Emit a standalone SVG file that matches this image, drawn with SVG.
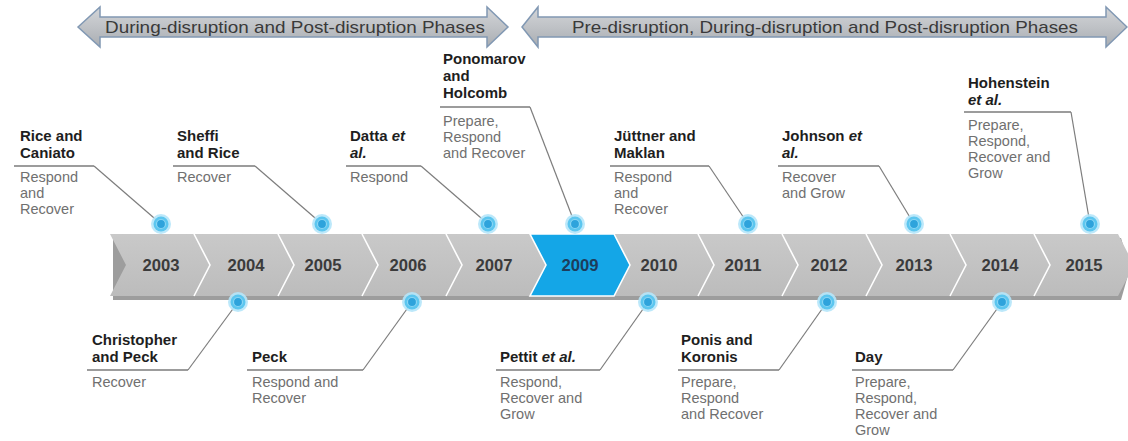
<svg xmlns="http://www.w3.org/2000/svg" width="1128" height="441" viewBox="0 0 1128 441">
<defs>
<linearGradient id="arrowFill" x1="0" y1="0" x2="0" y2="1">
<stop offset="0" stop-color="#d3d5d8"/>
<stop offset="0.5" stop-color="#bfc2c6"/>
<stop offset="1" stop-color="#a9adb2"/>
</linearGradient>
<linearGradient id="bandFill" x1="0" y1="0" x2="0" y2="1">
<stop offset="0" stop-color="#c9c9c9"/>
<stop offset="1" stop-color="#bcbcbc"/>
</linearGradient>
<g id="dot">
<circle r="10" fill="#b5e6f9" opacity="0.9"/>
<circle r="7.5" fill="#5cc6ef"/>
<circle r="4.5" fill="#2ea3dc" stroke="#8ad6f4" stroke-width="1.2"/>
</g>
</defs>
<style>
.arrow{fill:url(#arrowFill);stroke:#8198b3;stroke-width:1.5}
.atext{font-family:"Liberation Sans",Arial,sans-serif;font-size:17px;fill:#3a3a3a}
.seg{fill:url(#bandFill)}
.sep{fill:none;stroke:#ffffff;stroke-width:1.6}
.year{font-family:"Liberation Sans",Arial,sans-serif;font-size:17px;font-weight:bold;fill:#3b3b3b;text-anchor:middle}
.name{font-family:"Liberation Sans",Arial,sans-serif;font-size:15px;font-weight:bold;fill:#1e1e1e}
.desc{font-family:"Liberation Sans",Arial,sans-serif;font-size:14.5px;fill:#707070}
.rule{fill:none;stroke:#9c9c9c;stroke-width:2}
.lead{fill:none;stroke:#7d7d7d;stroke-width:1.2}
</style>
<rect width="1128" height="441" fill="#ffffff"/>

<g id="phase-during-post">
<polygon class="arrow" points="78,27 100,7 100,17 487,17 487,7 508,27 487,47 487,37 100,37 100,47"/>
<text class="atext" x="105" y="33" textLength="380" lengthAdjust="spacingAndGlyphs">During-disruption and Post-disruption Phases</text>
</g>
<g id="phase-pre-during-post">
<polygon class="arrow" points="522,27 538,7 538,17 1106,17 1106,7 1127,27 1106,47 1106,37 538,37 538,47"/>
<text class="atext" x="572" y="33" textLength="506" lengthAdjust="spacingAndGlyphs">Pre-disruption, During-disruption and Post-disruption Phases</text>
</g>

<g id="timeline">
<polygon points="113,238 1121,238 1130,268 1121,300 113,300" fill="#9d9d9d"/>
<polygon class="seg" points="110,234 1118,234 1134,265 1118,296 110,296 126,265"/>
<polyline class="sep" points="194,234 210,265 194,296"/>
<polyline class="sep" points="278,234 294,265 278,296"/>
<polyline class="sep" points="362,234 378,265 362,296"/>
<polyline class="sep" points="446,234 462,265 446,296"/>
<polyline class="sep" points="698,234 714,265 698,296"/>
<polyline class="sep" points="782,234 798,265 782,296"/>
<polyline class="sep" points="866,234 882,265 866,296"/>
<polyline class="sep" points="950,234 966,265 950,296"/>
<polyline class="sep" points="1034,234 1050,265 1034,296"/>
<polygon points="530,234 614,234 630,265 614,296 530,296 546,265" fill="#14a6e7" stroke="#ffffff" stroke-width="1.6"/>
<text class="year" x="161" y="271" textLength="37" lengthAdjust="spacingAndGlyphs">2003</text>
<text class="year" x="246" y="271" textLength="37" lengthAdjust="spacingAndGlyphs">2004</text>
<text class="year" x="323" y="271" textLength="37" lengthAdjust="spacingAndGlyphs">2005</text>
<text class="year" x="408" y="271" textLength="37" lengthAdjust="spacingAndGlyphs">2006</text>
<text class="year" x="494" y="271" textLength="37" lengthAdjust="spacingAndGlyphs">2007</text>
<text class="year" x="580" y="271" textLength="37" lengthAdjust="spacingAndGlyphs" fill="#1d3d5c" style="fill:#1d3d5c">2009</text>
<text class="year" x="659" y="271" textLength="37" lengthAdjust="spacingAndGlyphs">2010</text>
<text class="year" x="743" y="271" textLength="37" lengthAdjust="spacingAndGlyphs">2011</text>
<text class="year" x="829" y="271" textLength="37" lengthAdjust="spacingAndGlyphs">2012</text>
<text class="year" x="914" y="271" textLength="37" lengthAdjust="spacingAndGlyphs">2013</text>
<text class="year" x="1000" y="271" textLength="37" lengthAdjust="spacingAndGlyphs">2014</text>
<text class="year" x="1084" y="271" textLength="37" lengthAdjust="spacingAndGlyphs">2015</text>
</g>

<g id="connectors">
<polyline class="rule" points="14,166 94,166"/><line class="lead" x1="94" y1="166" x2="161" y2="224"/>
<polyline class="rule" points="173,166 255,166"/><line class="lead" x1="255" y1="166" x2="322" y2="224"/>
<polyline class="rule" points="346,166 421,166"/><line class="lead" x1="421" y1="166" x2="488" y2="224"/>
<polyline class="rule" points="440,107 530,107"/><line class="lead" x1="530" y1="107" x2="575" y2="224"/>
<polyline class="rule" points="610,166 709,166"/><line class="lead" x1="709" y1="166" x2="748" y2="224"/>
<polyline class="rule" points="778,166 879,166"/><line class="lead" x1="879" y1="166" x2="914" y2="224"/>
<polyline class="rule" points="964,112 1071,112"/><line class="lead" x1="1071" y1="112" x2="1090" y2="224"/>
<polyline class="rule" points="87,370 188,370"/><line class="lead" x1="188" y1="370" x2="238" y2="302"/>
<polyline class="rule" points="247,370 363,370"/><line class="lead" x1="363" y1="370" x2="412" y2="302"/>
<polyline class="rule" points="496,370 600,370"/><line class="lead" x1="600" y1="370" x2="648" y2="302"/>
<polyline class="rule" points="678,370 779,370"/><line class="lead" x1="779" y1="370" x2="827" y2="302"/>
<polyline class="rule" points="852,370 953,370"/><line class="lead" x1="953" y1="370" x2="1002" y2="302"/>
</g>

<g id="rice-caniato">
<use href="#dot" x="161" y="224"/>
<text class="name" x="20" y="141">Rice and</text>
<text class="name" x="20" y="158">Caniato</text>
<text class="desc" x="20" y="182">Respond</text>
<text class="desc" x="20" y="198">and</text>
<text class="desc" x="20" y="214">Recover</text>
</g>
<g id="sheffi-rice">
<use href="#dot" x="322" y="224"/>
<text class="name" x="177" y="141">Sheffi</text>
<text class="name" x="177" y="158">and Rice</text>
<text class="desc" x="177" y="182">Recover</text>
</g>
<g id="datta">
<use href="#dot" x="488" y="224"/>
<text class="name" x="350" y="141">Datta <tspan font-style="italic">et</tspan></text>
<text class="name" x="350" y="158" font-style="italic">al.</text>
<text class="desc" x="350" y="182">Respond</text>
</g>
<g id="ponomarov-holcomb">
<use href="#dot" x="575" y="224"/>
<text class="name" x="443" y="64">Ponomarov</text>
<text class="name" x="443" y="81">and</text>
<text class="name" x="443" y="98">Holcomb</text>
<text class="desc" x="443" y="126">Prepare,</text>
<text class="desc" x="443" y="142">Respond</text>
<text class="desc" x="443" y="158">and Recover</text>
</g>
<g id="juttner-maklan">
<use href="#dot" x="748" y="224"/>
<text class="name" x="614" y="141">Jüttner and</text>
<text class="name" x="614" y="158">Maklan</text>
<text class="desc" x="614" y="182">Respond</text>
<text class="desc" x="614" y="198">and</text>
<text class="desc" x="614" y="214">Recover</text>
</g>
<g id="johnson">
<use href="#dot" x="914" y="224"/>
<text class="name" x="782" y="141">Johnson <tspan font-style="italic">et</tspan></text>
<text class="name" x="782" y="158" font-style="italic">al.</text>
<text class="desc" x="782" y="182">Recover</text>
<text class="desc" x="782" y="198">and Grow</text>
</g>
<g id="hohenstein">
<use href="#dot" x="1090" y="224"/>
<text class="name" x="968" y="88">Hohenstein</text>
<text class="name" x="968" y="105" font-style="italic">et al.</text>
<text class="desc" x="968" y="130">Prepare,</text>
<text class="desc" x="968" y="146">Respond,</text>
<text class="desc" x="968" y="162">Recover and</text>
<text class="desc" x="968" y="178">Grow</text>
</g>
<g id="christopher-peck">
<use href="#dot" x="238" y="302"/>
<text class="name" x="92" y="345">Christopher</text>
<text class="name" x="92" y="362">and Peck</text>
<text class="desc" x="92" y="387">Recover</text>
</g>
<g id="peck">
<use href="#dot" x="412" y="302"/>
<text class="name" x="252" y="362">Peck</text>
<text class="desc" x="252" y="387">Respond and</text>
<text class="desc" x="252" y="403">Recover</text>
</g>
<g id="pettit">
<use href="#dot" x="648" y="302"/>
<text class="name" x="500" y="362">Pettit <tspan font-style="italic">et al.</tspan></text>
<text class="desc" x="500" y="387">Respond,</text>
<text class="desc" x="500" y="403">Recover and</text>
<text class="desc" x="500" y="419">Grow</text>
</g>
<g id="ponis-koronis">
<use href="#dot" x="827" y="302"/>
<text class="name" x="681" y="345">Ponis and</text>
<text class="name" x="681" y="362">Koronis</text>
<text class="desc" x="681" y="387">Prepare,</text>
<text class="desc" x="681" y="403">Respond</text>
<text class="desc" x="681" y="419">and Recover</text>
</g>
<g id="day">
<use href="#dot" x="1002" y="302"/>
<text class="name" x="855" y="362">Day</text>
<text class="desc" x="855" y="387">Prepare,</text>
<text class="desc" x="855" y="403">Respond,</text>
<text class="desc" x="855" y="419">Recover and</text>
<text class="desc" x="855" y="435">Grow</text>
</g>
</svg>
